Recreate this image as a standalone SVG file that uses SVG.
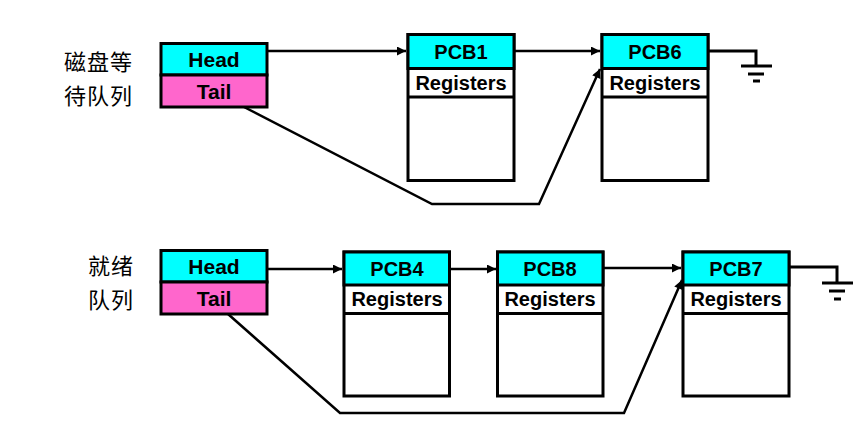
<svg xmlns="http://www.w3.org/2000/svg" width="865" height="421" viewBox="0 0 865 421">
<style>
.box{stroke:#000;stroke-width:3;}
.cy{fill:#00ffff;}
.pk{fill:#ff66cc;}
.wh{fill:#fff;}
.t{font-family:"Liberation Sans",Arial,sans-serif;font-weight:bold;font-size:20px;fill:#000;text-anchor:middle;}
.h{font-size:21px;}
.cn{font-family:"Noto Sans CJK SC",sans-serif;font-size:22px;fill:#000;letter-spacing:1px;}
.ln{fill:none;stroke:#000;stroke-width:2.5;stroke-linejoin:miter;}
.gnd{fill:none;stroke:#000;stroke-width:3;}
</style>
<defs>
<marker id="ar" viewBox="0 0 10 10" refX="10" refY="5" markerWidth="4.4" markerHeight="3.6" orient="auto" markerUnits="strokeWidth">
<path d="M0,0 L10,5 L0,10 z" fill="#000"/>
</marker>
</defs>
<rect width="865" height="421" fill="#fff"/>

<g id="label-disk">
<text class="cn" x="64" y="70">磁盘等</text>
<text class="cn" x="64" y="104">待队列</text>
</g>
<g id="label-ready">
<text class="cn" x="88" y="274">就绪</text>
<text class="cn" x="88" y="308">队列</text>
</g>

<g id="q1">
<rect class="box cy" x="161" y="43.5" width="106" height="31.5"/>
<rect class="box pk" x="161" y="75" width="106" height="32"/>
<text class="t h" x="214" y="67">Head</text>
<text class="t h" x="214" y="99">Tail</text>
</g>
<g id="q2">
<rect class="box cy" x="161" y="250.5" width="106" height="31.5"/>
<rect class="box pk" x="161" y="282" width="106" height="32"/>
<text class="t h" x="214" y="274">Head</text>
<text class="t h" x="214" y="306">Tail</text>
</g>

<g id="pcb1">
<rect class="box wh" x="408" y="34.5" width="106" height="146"/>
<rect class="box cy" x="408" y="34.5" width="106" height="34"/>
<line class="box" x1="408" y1="97" x2="514" y2="97"/>
<text class="t" x="461" y="59">PCB1</text>
<text class="t" x="461" y="90">Registers</text>
</g>
<g id="pcb6">
<rect class="box wh" x="602" y="34.5" width="106" height="146"/>
<rect class="box cy" x="602" y="34.5" width="106" height="34"/>
<line class="box" x1="602" y1="97" x2="708" y2="97"/>
<text class="t" x="655" y="59">PCB6</text>
<text class="t" x="655" y="90">Registers</text>
</g>
<g id="pcb4">
<rect class="box wh" x="344" y="252" width="105.5" height="144"/>
<rect class="box cy" x="344" y="252" width="105.5" height="33"/>
<line class="box" x1="344" y1="313.5" x2="449.5" y2="313.5"/>
<text class="t" x="397" y="276">PCB4</text>
<text class="t" x="397" y="306">Registers</text>
</g>
<g id="pcb8">
<rect class="box wh" x="497.5" y="252" width="105.5" height="144"/>
<rect class="box cy" x="497.5" y="252" width="105.5" height="33"/>
<line class="box" x1="497.5" y1="313.5" x2="603" y2="313.5"/>
<text class="t" x="550" y="276">PCB8</text>
<text class="t" x="550" y="306">Registers</text>
</g>
<g id="pcb7">
<rect class="box wh" x="683" y="252" width="106" height="144"/>
<rect class="box cy" x="683" y="252" width="106" height="33"/>
<line class="box" x1="683" y1="313.5" x2="789" y2="313.5"/>
<text class="t" x="736" y="276">PCB7</text>
<text class="t" x="736" y="306">Registers</text>
</g>

<g id="ground1">
<polyline class="gnd" points="708,51 756,51 756,66"/>
<line class="gnd" x1="741" y1="66" x2="772" y2="66"/>
<line class="gnd" x1="748" y1="74" x2="764" y2="74"/>
<line class="gnd" x1="753" y1="81" x2="760" y2="81"/>
</g>
<g id="ground2">
<polyline class="gnd" points="789,267 837,267 837,283"/>
<line class="gnd" x1="822" y1="283" x2="853" y2="283"/>
<line class="gnd" x1="829" y1="291" x2="845" y2="291"/>
<line class="gnd" x1="834" y1="299" x2="841" y2="299"/>
</g>

<g id="connectors">
<line class="ln" x1="267" y1="51" x2="406" y2="51" marker-end="url(#ar)"/>
<line class="ln" x1="514" y1="51" x2="600" y2="51" marker-end="url(#ar)"/>
<polyline class="ln" points="244,107 432,204 539,204 600,69" marker-end="url(#ar)"/>
<line class="ln" x1="267" y1="269" x2="342" y2="269" marker-end="url(#ar)"/>
<line class="ln" x1="449.5" y1="269" x2="496" y2="269" marker-end="url(#ar)"/>
<line class="ln" x1="603" y1="268" x2="681" y2="268" marker-end="url(#ar)"/>
<polyline class="ln" points="228,314 340,413 624,413 682,280" marker-end="url(#ar)"/>
</g>
</svg>
